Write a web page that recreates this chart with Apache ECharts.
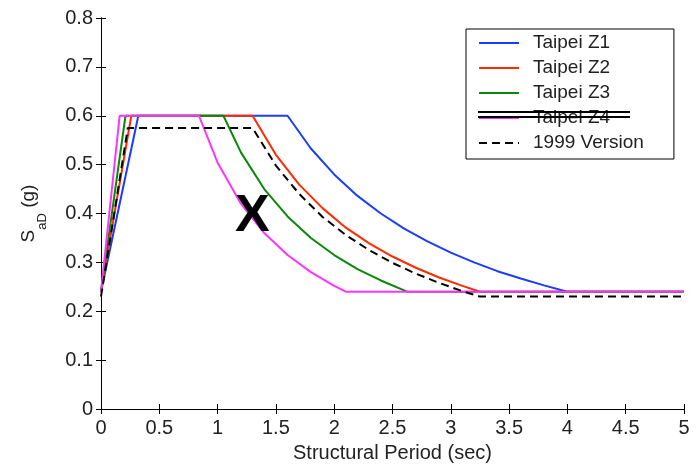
<!DOCTYPE html>
<html>
<head>
<meta charset="utf-8">
<style>
  html, body { margin: 0; padding: 0; background: #fff; }
  #chart { width: 696px; height: 464px; }
</style>
<script src="https://cdn.jsdelivr.net/npm/echarts@6/dist/echarts.min.js"></script>
</head>
<body>
<div id="chart"></div>
<script>
// design spectra, Taipei basin zones vs 1999 code
const seriesNames = ['Taipei Z1', 'Taipei Z2', 'Taipei Z3', 'Taipei Z4', '1999 Version']

// period (sec) / SaD (g)
const periodZ1 = [0, 0.32, 1.6, 1.8, 2.0, 2.2, 2.4, 2.6, 2.8, 3.0, 3.2, 3.4, 3.6, 3.8, 4.0, 5.0]
const saZ1 = [0.24, 0.6, 0.6, 0.533, 0.48, 0.436, 0.4, 0.369, 0.343, 0.32, 0.3, 0.282, 0.267, 0.253, 0.24, 0.24]

const periodZ2 = [0, 0.26, 1.3, 1.5, 1.7, 1.9, 2.1, 2.3, 2.5, 2.7, 2.9, 3.1, 3.25, 5.0]
const saZ2 = [0.24, 0.6, 0.6, 0.52, 0.459, 0.411, 0.371, 0.339, 0.312, 0.289, 0.269, 0.252, 0.24, 0.24]

const periodZ3 = [0, 0.21, 1.05, 1.2, 1.4, 1.6, 1.8, 2.0, 2.2, 2.4, 2.625, 5.0]
const saZ3 = [0.24, 0.6, 0.6, 0.525, 0.45, 0.394, 0.35, 0.315, 0.286, 0.263, 0.24, 0.24]

const periodZ4 = [0, 0.16, 0.84, 1.0, 1.2, 1.4, 1.6, 1.8, 2.0, 2.1, 5.0]
const saZ4 = [0.24, 0.6, 0.6, 0.504, 0.42, 0.36, 0.315, 0.28, 0.252, 0.24, 0.24]

const period1999 = [0, 0.23, 1.3, 1.5, 1.7, 1.9, 2.1, 2.3, 2.5, 2.7, 2.9, 3.1, 3.25, 5.0]
const sa1999 = [0.23, 0.575, 0.575, 0.498, 0.44, 0.393, 0.356, 0.325, 0.299, 0.277, 0.258, 0.241, 0.23, 0.23]

const font = 'Liberation Sans, Arial, sans-serif'
const textColor = '#222'

function pairs (xs, ys) {
  return xs.map((x, i) => [x, ys[i]])
}

function lineSeries (name, xs, ys, color, dashed) {
  return {
    name: name,
    type: 'line',
    symbol: 'none',
    data: pairs(xs, ys),
    lineStyle: { color: color, width: 2, type: dashed ? [8, 5] : 'solid' },
    itemStyle: { color: color }
  }
}

const chart = echarts.init(document.getElementById('chart'))

const axisLine = { show: true, lineStyle: { color: '#000', width: 1 } }
const axisTick = { show: true, inside: true, length: 5, lineStyle: { color: '#000' } }

chart.setOption({
  animation: false,
  backgroundColor: '#fff',
  // fixed plot box, don't let v6 shrink it for the axis names
  grid: { left: 101, right: 12, top: 18, bottom: 55, outerBoundsMode: 'none' },
  xAxis: [
    {
      type: 'value',
      min: 0,
      max: 5,
      interval: 0.5,
      position: 'bottom',
      axisLine: axisLine,
      axisTick: axisTick,
      splitLine: { show: false },
      axisLabel: { fontSize: 20, color: textColor, fontFamily: font, margin: 9 },
      name: 'Structural Period (sec)',
      nameLocation: 'middle',
      nameGap: 34,
      nameTextStyle: { fontSize: 20, color: textColor, fontFamily: font }
    },
    {
      type: 'value',
      min: 0,
      max: 5,
      interval: 0.5,
      position: 'top',
      axisLine: axisLine,
      axisTick: axisTick,
      splitLine: { show: false },
      axisLabel: { show: false }
    }
  ],
  yAxis: [
    {
      type: 'value',
      min: 0,
      max: 0.8,
      interval: 0.1,
      position: 'left',
      axisLine: axisLine,
      axisTick: axisTick,
      splitLine: { show: false },
      axisLabel: { fontSize: 20, color: textColor, fontFamily: font, margin: 8 },
      name: '{s|S}{sub|aD}{s| (g)}',
      nameLocation: 'middle',
      nameGap: 52,
      nameTextStyle: {
        color: textColor,
        fontFamily: font,
        rich: {
          s: { fontSize: 19, lineHeight: 20, verticalAlign: 'top', color: textColor, fontFamily: font },
          sub: { fontSize: 13, lineHeight: 30, verticalAlign: 'bottom', color: textColor, fontFamily: font }
        }
      }
    },
    {
      type: 'value',
      min: 0,
      max: 0.8,
      interval: 0.1,
      position: 'right',
      axisLine: axisLine,
      axisTick: axisTick,
      splitLine: { show: false },
      axisLabel: { show: false }
    }
  ],
  legend: {
    data: seriesNames,
    orient: 'vertical',
    left: 466,
    top: 29,
    itemWidth: 40,
    itemHeight: 14,
    itemGap: 5,
    padding: [4, 30, 6, 12],
    borderColor: '#000',
    borderWidth: 1,
    backgroundColor: '#fff',
    selectedMode: false,
    itemStyle: { opacity: 0 },
    textStyle: { fontSize: 19, color: textColor, fontFamily: font, lineHeight: 20, padding: [0, 0, 0, 9] }
  },
  series: [
    lineSeries(seriesNames[0], periodZ1, saZ1, '#1a3cff', false),
    lineSeries(seriesNames[1], periodZ2, saZ2, '#ff2a00', false),
    lineSeries(seriesNames[2], periodZ3, saZ3, '#0a880a', false),
    lineSeries(seriesNames[3], periodZ4, saZ4, '#ff33ff', false),
    lineSeries(seriesNames[4], period1999, sa1999, '#000000', true)
  ],
  graphic: [
    // Z4 crossed out in the legend
    { type: 'line', shape: { x1: 478, y1: 112, x2: 630, y2: 112 }, style: { stroke: '#000', lineWidth: 2 }, z: 100 },
    { type: 'line', shape: { x1: 478, y1: 117, x2: 630, y2: 117 }, style: { stroke: '#000', lineWidth: 2 }, z: 100 },
    // big X mark
    {
      type: 'text',
      left: 235,
      top: 191,
      z: 100,
      style: { text: 'X', fontSize: 52, fontWeight: 'bold', fill: '#000', fontFamily: font }
    }
  ]
})
</script>
</body>
</html>
